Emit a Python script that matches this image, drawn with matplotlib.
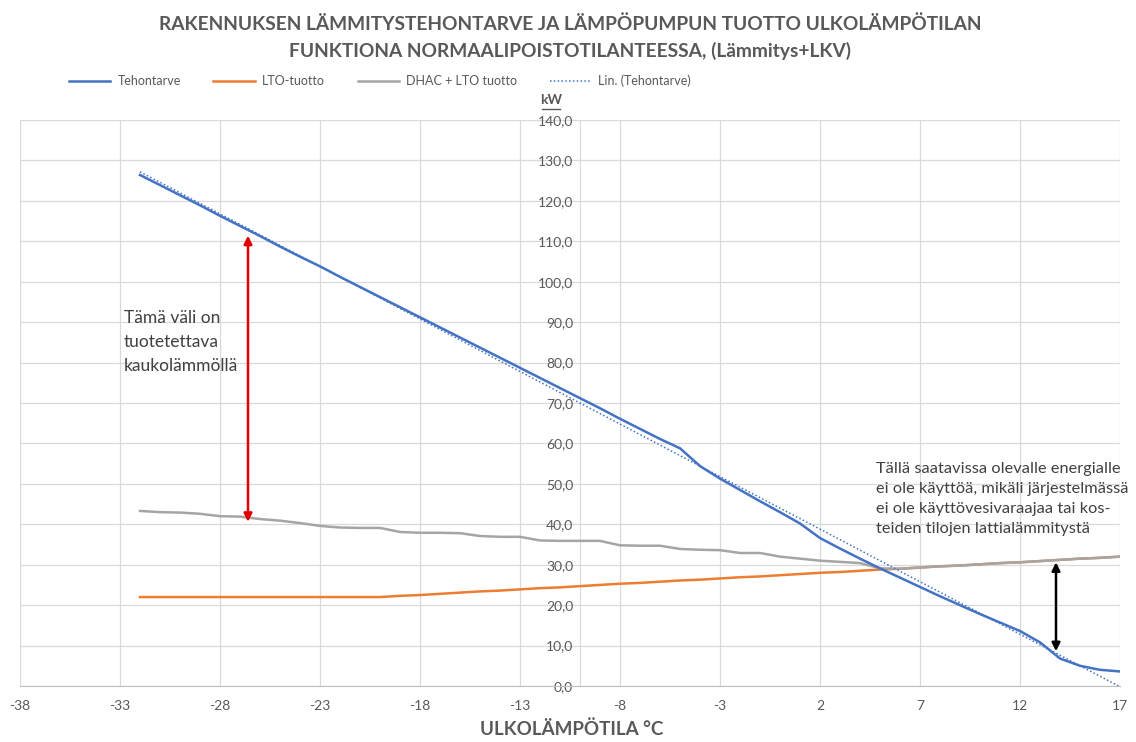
import numpy as np
import matplotlib
matplotlib.use("Agg")
import matplotlib.pyplot as plt
from matplotlib.lines import Line2D
from matplotlib.ticker import FuncFormatter, MultipleLocator, FixedLocator

# ----------------------------------------------------------------------
# DATA
# ----------------------------------------------------------------------

temps = list(range(-32, 18))

tehontarve = [126.4, 123.9, 121.4, 118.9, 116.3, 113.8, 111.3, 108.7, 106.2, 103.8,
              101.2, 98.7, 96.2, 93.7, 91.2, 88.7, 86.2, 83.7, 81.2, 78.7,
              76.2, 73.7, 71.2, 68.7, 66.1, 63.6, 61.1, 58.8, 54.4, 51.3,
              48.5, 45.7, 43.0, 40.2, 36.6, 34.0, 31.5, 29.1, 26.8, 24.5,
              22.2, 20.0, 17.8, 15.7, 13.6, 10.8, 6.8, 5.0, 4.0, 3.6]

lto_tuotto = [22.0, 22.0, 22.0, 22.0, 22.0, 22.0, 22.0, 22.0, 22.0, 22.0,
              22.0, 22.0, 22.0, 22.3, 22.5, 22.8, 23.1, 23.4, 23.6, 23.9,
              24.2, 24.4, 24.7, 25.0, 25.3, 25.5, 25.8, 26.1, 26.3, 26.6,
              26.9, 27.1, 27.4, 27.7, 28.0, 28.2, 28.5, 28.8, 29.0, 29.3,
              29.6, 29.8, 30.1, 30.4, 30.6, 30.9, 31.2, 31.5, 31.7, 32.0]

dhac_lto = [43.3, 43.0, 42.9, 42.6, 42.0, 41.9, 41.3, 40.9, 40.3, 39.6,
            39.2, 39.1, 39.1, 38.1, 37.9, 37.9, 37.8, 37.1, 36.9, 36.9,
            36.0, 35.9, 35.9, 35.9, 34.8, 34.7, 34.7, 33.9, 33.7, 33.6,
            32.9, 32.9, 32.0, 31.5, 31.0, 30.7, 30.4, 29.1, 29.0, 29.3,
            29.6, 29.8, 30.1, 30.4, 30.6, 30.9, 31.2, 31.5, 31.7, 32.0]

x_ticks = [-38, -33, -28, -23, -18, -13, -8, -3, 2, 7, 12, 17]

# annotation arrows: (x, y_top, y_bottom)
red_arrow = (-26.6, 111.4, 40.6)
black_arrow = (13.8, 30.6, 8.6)

TITLE = ("RAKENNUKSEN LÄMMITYSTEHONTARVE JA LÄMPÖPUMPUN TUOTTO ULKOLÄMPÖTILAN\n"
         "FUNKTIONA NORMAALIPOISTOTILANTEESSA, (Lämmitys+LKV)")
XLABEL = "ULKOLÄMPÖTILA °C"
NOTE_LEFT = "Tämä väli on\ntuotetettava\nkaukolämmöllä"
NOTE_RIGHT = ("Tällä saatavissa olevalle energialle\n"
              "ei ole käyttöä, mikäli järjestelmässä\n"
              "ei ole käyttövesivaraajaa tai kos-\n"
              "teiden tilojen lattialämmitystä")

# ----------------------------------------------------------------------
# STYLE
# ----------------------------------------------------------------------

plt.rcParams['font.family'] = ['Lato', 'DejaVu Sans']
TXT = "#595959"
GRID = "#D9D9D9"

fig = plt.figure(figsize=(11.36, 7.42), dpi=100)
ax = fig.add_axes([20 / 1136, 1 - 686 / 742, 1100 / 1136, 566 / 742])

x = np.array(temps)
ax.plot(x, tehontarve, color="#4472C4", lw=1.8, label="Tehontarve", zorder=4)
ax.plot(x, lto_tuotto, color="#ED7D31", lw=1.8, label="LTO-tuotto", zorder=3)
ax.plot(x, dhac_lto, color="#A5A5A5", lw=1.8, label="DHAC + LTO tuotto", zorder=3.5)

# Excel-style linear trendline of Tehontarve
k, b = np.polyfit(x, tehontarve, 1)
xt = np.array([x.min(), x.max()])
ax.plot(xt, k * xt + b, color="#4472C4", lw=1.1, ls=(0, (1, 1.5)),
        label="Lin. (Tehontarve)", zorder=5)

ax.set_xlim(-38, 17)
ax.set_ylim(0, 140)
ax.xaxis.set_major_locator(FixedLocator(x_ticks))
ax.yaxis.set_major_locator(MultipleLocator(10))
ax.xaxis.set_major_formatter(FuncFormatter(lambda v, p: f"{int(round(v))}"))
ax.yaxis.set_major_formatter(FuncFormatter(lambda v, p: f"{v:.1f}".replace(".", ",")))
ax.grid(True, color=GRID, lw=0.9)
ax.set_axisbelow(True)

for s in ["top", "right"]:
    ax.spines[s].set_visible(False)
ax.spines["left"].set_position(("data", -10))
ax.spines["left"].set_color(GRID)
ax.spines["bottom"].set_color("#BFBFBF")
ax.tick_params(axis="both", length=0, colors=TXT, labelsize=10)
ax.tick_params(axis="x", pad=10)
ax.tick_params(axis="y", pad=5)

# arrows and notes
ax.annotate("", xy=(red_arrow[0], red_arrow[1]), xytext=(red_arrow[0], red_arrow[2]),
            arrowprops=dict(arrowstyle="<|-|>", color="#E00000", lw=1.8,
                            mutation_scale=12, shrinkA=0, shrinkB=0), zorder=6)
ax.annotate("", xy=(black_arrow[0], black_arrow[1]), xytext=(black_arrow[0], black_arrow[2]),
            arrowprops=dict(arrowstyle="<|-|>", color="black", lw=1.8,
                            mutation_scale=12, shrinkA=0, shrinkB=0), zorder=6)

fig.text(124 / 1136, 1 - 310 / 742, NOTE_LEFT, fontsize=12.5, color="#404040",
         va="top", ha="left", linespacing=1.6)
fig.text(876 / 1136, 1 - 462 / 742, NOTE_RIGHT, fontsize=11.8, color="#404040",
         va="top", ha="left", linespacing=1.55)

# title, legend, labels
fig.text(570 / 1136, 1 - 38 / 742, TITLE, ha="center", va="center", fontsize=13.8,
         fontweight="bold", color=TXT, linespacing=1.6)

handles = [Line2D([], [], color="#4472C4", lw=1.8),
           Line2D([], [], color="#ED7D31", lw=1.8),
           Line2D([], [], color="#A5A5A5", lw=1.8),
           Line2D([], [], color="#4472C4", lw=1.1, ls=(0, (1, 1.5)))]
labels = ["Tehontarve", "LTO-tuotto", "DHAC + LTO tuotto", "Lin. (Tehontarve)"]
fig.legend(handles, labels, loc="center", bbox_to_anchor=(380 / 1136, 1 - 81 / 742),
           ncol=4, frameon=False, fontsize=9, handlelength=3.3, handletextpad=0.6,
           columnspacing=2.6, labelcolor=TXT)

fig.text(551 / 1136, 1 - 100 / 742, "kW", ha="center", va="center", fontsize=10,
         fontweight="bold", color=TXT)
fig.add_artist(Line2D([542 / 1136, 560 / 1136], [1 - 109 / 742, 1 - 109 / 742],
                      color=TXT, lw=1))

fig.text(572 / 1136, 1 - 729 / 742, XLABEL, ha="center", va="center", fontsize=13.5,
         fontweight="bold", color=TXT)

fig.savefig("out.png", dpi=100)
